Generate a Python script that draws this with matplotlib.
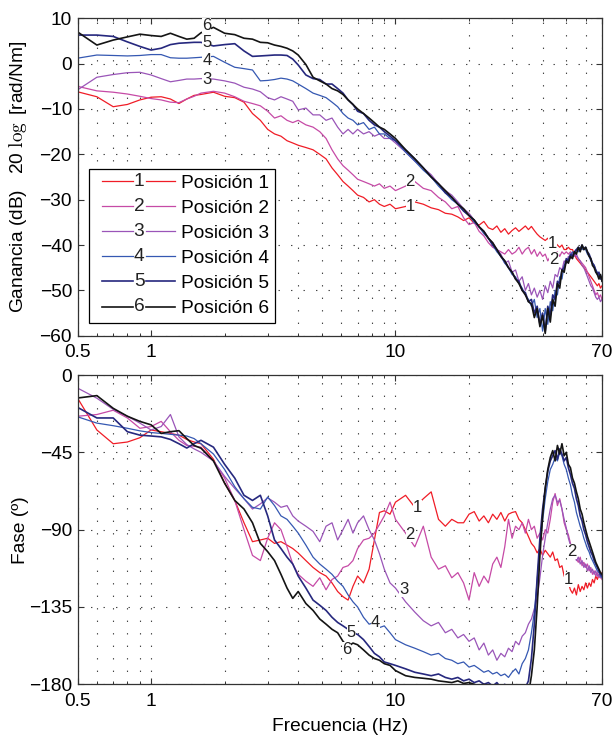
import matplotlib
matplotlib.use('Agg')
import matplotlib.pyplot as plt
import numpy as np
from matplotlib.legend_handler import HandlerBase
from matplotlib.lines import Line2D
from matplotlib.text import Text
from matplotlib.ticker import FixedLocator, FixedFormatter, NullFormatter

plt.rcParams['font.family'] = ['Liberation Sans', 'DejaVu Sans']
plt.rcParams['mathtext.fontset'] = 'cm'
plt.rcParams['lines.scale_dashes'] = False

# ---------------- data ----------------
f_lo = [0.5, 0.6, 0.7, 0.8, 0.9, 1.0, 1.1, 1.2, 1.3, 1.4, 1.5, 1.6,
        1.8, 2.0, 2.2, 2.4, 2.6, 2.8, 3.0, 3.2, 3.4, 3.6, 3.8,
        4.0, 4.3, 4.6, 4.9, 5.2, 5.5, 5.8, 6.1, 6.4, 6.7, 7.0,
        7.4, 7.8, 8.2, 8.6, 9.0, 9.5, 10.0]
f_hi = [11, 12, 13, 14, 15, 16, 17, 18, 19, 20,
        21, 22, 23, 24, 25, 26, 27, 28, 29, 30,
        31, 32, 33, 34, 35, 36, 37, 38, 39, 40,
        41, 42, 43, 44, 45, 46, 47, 48, 49, 50,
        51, 52, 53, 54, 55, 56, 57, 58, 59, 60,
        61, 62, 63, 64, 65, 66, 67, 68, 69, 70]

# gain (dB)
mag1_lo = [-6.2, -7.3, -9.5, -9.0, -8.0, -7.4, -7.3, -7.8, -8.8, -7.8, -7.0, -6.8,
           -6.3, -7.2, -7.5, -8.5, -11.0, -12.5, -14.5, -15.5, -16.0, -17.0, -17.5,
           -18.0, -18.5, -19.0, -20.0, -21.0, -23.0, -24.5, -26.0, -27.0, -28.0, -29.0,
           -29.5, -30.5, -30.0, -31.0, -31.5, -31.0, -32.0]
mag1_hi = [-31.5, -30.5, -31.0, -31.8, -32.2, -33.0, -33.2, -33.8, -34.6, -34.0,
           -35.2, -35.6, -34.8, -36.2, -36.6, -35.8, -37.2, -36.4, -37.6, -36.8,
           -36.2, -37.0, -36.4, -35.8, -36.6, -35.9, -36.8, -37.6, -38.2, -38.6,
           -39.0, -38.5, -39.5, -40.0, -39.5, -40.0, -40.5, -40.0, -41.0, -41.0,
           -40.5, -41.0, -41.0, -42.0, -43.0, -43.5, -44.0, -44.5, -45.0, -45.5,
           -46.0, -46.5, -47.0, -47.5, -48.0, -48.5, -49.0, -48.5, -49.5, -49.0]
mag2_lo = [-5.0, -6.0, -6.3, -6.7, -7.2, -7.7, -8.0, -8.5, -8.6, -7.8, -7.2, -6.5,
           -6.1, -6.5, -7.3, -8.3, -8.8, -9.3, -10.5, -12.0, -11.5, -12.5, -13.0,
           -12.5, -13.5, -14.0, -15.0, -16.5, -19.0, -21.0, -22.5, -23.5, -24.5, -25.5,
           -26.0, -26.5, -27.0, -26.5, -27.5, -27.0, -28.0]
mag2_hi = [-27.0, -26.0, -27.5, -28.0, -29.5, -30.5, -32.0, -31.5, -34.0, -35.5,
           -35.0, -37.0, -38.0, -39.5, -40.5, -41.0, -41.5, -42.0, -41.0, -42.0,
           -41.5, -40.5, -42.0, -41.0, -40.5, -42.0, -41.0, -42.5, -41.5, -42.5,
           -42.0, -43.5, -42.5, -43.5, -42.0, -41.5, -42.5, -41.5, -42.0, -41.5,
           -42.0, -41.5, -42.0, -42.0, -42.5, -43.0, -43.5, -44.0, -44.5, -45.0,
           -46.0, -47.0, -48.0, -49.0, -50.0, -51.0, -50.5, -51.5, -51.0, -52.0]
mag3_lo = [-5.8, -3.0, -2.4, -2.0, -1.9, -2.5, -3.3, -4.0, -3.7, -3.4, -3.4, -3.3,
           -3.4, -3.8, -4.3, -5.2, -5.6, -6.2, -7.5, -8.0, -7.3, -7.8, -8.3,
           -10.2, -9.8, -11.3, -11.3, -12.5, -12.0, -14.0, -15.5, -14.5, -15.5, -14.5,
           -15.5, -15.0, -16.0, -15.5, -16.5, -16.5, -17.5]
mag3_hi = [-19.5, -21.5, -23.0, -24.5, -26.5, -28.0, -29.0, -30.5, -32.0, -33.0,
           -34.5, -36.0, -37.0, -38.5, -39.5, -41.0, -42.0, -44.0, -43.5, -46.0,
           -45.5, -48.0, -47.0, -50.0, -48.5, -51.0, -49.5, -51.5, -50.0, -52.0,
           -49.0, -50.5, -48.0, -49.5, -46.5, -47.0, -45.0, -45.5, -43.5, -44.0,
           -42.5, -43.0, -42.0, -42.5, -42.0, -43.0, -43.5, -44.5, -45.0, -46.0,
           -47.0, -48.0, -49.0, -49.5, -50.5, -51.5, -52.0, -51.5, -52.5, -52.0]
mag4_lo = [1.2, 1.9, 1.8, 1.7, 1.8, 2.0, 2.0, 1.3, 1.2, 1.2, 1.3, 1.4,
           1.6, 0.3, -0.8, -1.1, -1.4, -3.8, -3.7, -3.5, -3.2, -3.4, -3.8,
           -4.5, -5.5, -6.5, -7.0, -7.5, -8.5, -9.5, -11.0, -12.0, -12.5, -13.5,
           -13.0, -14.5, -14.0, -15.5, -15.5, -16.5, -17.0]
mag4_hi = [-19.5, -21.5, -23.5, -25.0, -27.0, -28.5, -30.0, -31.0, -32.5, -33.5,
           -35.0, -36.0, -37.5, -38.5, -40.0, -41.5, -42.5, -44.0, -45.0, -46.5,
           -47.0, -48.5, -49.5, -51.0, -52.0, -53.5, -52.0, -56.0, -54.0, -59.0,
           -54.0, -57.5, -52.5, -54.5, -50.0, -51.0, -47.0, -47.5, -44.5, -44.0,
           -43.0, -42.5, -41.5, -42.0, -41.0, -41.5, -40.5, -41.0, -40.5, -41.0,
           -42.0, -42.5, -43.5, -44.0, -44.5, -45.5, -46.0, -47.0, -46.5, -48.0]
mag5_lo = [6.3, 6.3, 6.0, 4.8, 3.8, 3.0, 3.4, 4.2, 4.5, 4.6, 4.7, 4.7,
           3.9, 4.2, 4.4, 2.8, 1.6, 1.7, 1.8, 1.9, 1.9, 1.8, 1.0,
           -0.3, -2.5, -3.3, -3.5, -4.5, -4.5, -5.5, -6.5, -8.0, -9.0, -10.5,
           -11.0, -12.5, -13.5, -14.0, -15.0, -16.0, -17.0]
mag5_hi = [-19.0, -21.0, -23.0, -25.0, -26.5, -28.5, -29.5, -31.0, -32.5, -33.5,
           -34.5, -36.0, -37.0, -38.5, -40.0, -41.0, -42.5, -43.5, -45.0, -46.0,
           -47.5, -48.0, -50.0, -50.5, -52.5, -52.0, -55.0, -53.5, -57.5, -55.0,
           -59.0, -53.5, -55.5, -51.0, -52.0, -48.0, -48.5, -45.5, -45.0, -43.0,
           -43.5, -42.0, -42.5, -41.5, -41.0, -40.5, -41.0, -40.0, -41.0, -40.5,
           -41.5, -42.0, -43.0, -44.0, -44.5, -45.5, -46.5, -46.0, -47.5, -47.0]
mag6_lo = [7.0, 4.1, 5.2, 5.9, 6.5, 6.2, 6.0, 6.7, 6.0, 5.4, 5.6, 6.8,
           8.0, 6.7, 6.4, 5.6, 5.4, 4.7, 4.6, 4.1, 3.8, 3.4, 2.8,
           1.9, -0.2, -3.0, -3.8, -4.5, -5.5, -6.0, -6.8, -8.0, -9.0, -10.0,
           -11.0, -12.0, -13.0, -14.0, -14.5, -15.5, -16.5]
mag6_hi = [-19.0, -21.0, -23.0, -25.0, -26.5, -28.0, -29.5, -31.0, -32.0, -33.5,
           -34.5, -36.0, -37.0, -38.5, -39.5, -41.0, -42.5, -43.5, -45.0, -46.0,
           -47.5, -48.5, -50.0, -51.0, -52.5, -53.0, -56.0, -54.0, -58.0, -55.5,
           -59.5, -54.0, -57.0, -52.0, -53.5, -48.5, -49.5, -45.5, -46.0, -43.5,
           -44.0, -42.5, -43.0, -41.5, -42.0, -40.5, -41.5, -40.0, -41.0, -40.5,
           -41.5, -42.5, -43.0, -44.5, -45.0, -46.0, -46.5, -47.5, -46.5, -48.0]

# phase (degrees)
ph1_lo = [-13.4, -32.0, -40.0, -39.0, -36.5, -32.0, -33.0, -34.0, -35.0, -37.5, -39.0, -40.0,
          -49.0, -63.0, -73.0, -86.0, -97.0, -96.0, -95.0, -98.0, -97.0, -99.0, -101.0,
          -103.6, -108.0, -112.0, -115.0, -117.0, -121.0, -126.0, -129.0, -131.0, -123.0, -117.0,
          -121.0, -113.0, -96.0, -80.0, -79.0, -81.0, -74.0]
ph1_hi = [-70.0, -77.0, -72.0, -68.0, -84.0, -88.0, -84.0, -86.0, -86.0, -81.0,
          -79.5, -85.0, -82.0, -86.0, -81.0, -84.0, -80.0, -85.0, -81.0, -80.0,
          -79.5, -84.0, -86.0, -90.0, -94.0, -98.0, -100.0, -103.5, -101.0, -105.0,
          -102.0, -104.0, -106.0, -103.0, -108.0, -107.0, -112.0, -111.0, -117.0, -119.0,
          -121.0, -125.0, -127.0, -124.0, -128.0, -122.0, -126.0, -123.0, -125.0, -121.0,
          -124.0, -121.0, -123.0, -119.0, -121.0, -117.0, -119.0, -116.0, -118.0, -115.0]
ph2_lo = [-24.0, -23.0, -20.5, -25.0, -31.0, -30.0, -27.0, -33.0, -38.0, -41.0, -41.5, -42.0,
          -50.0, -60.0, -73.0, -90.0, -105.0, -108.0, -95.0, -86.0, -90.0, -100.0, -110.0,
          -116.0, -120.0, -123.0, -118.0, -125.0, -119.0, -117.0, -112.0, -111.0, -108.0, -101.0,
          -96.0, -95.0, -92.0, -87.0, -82.0, -74.0, -84.0]
ph2_hi = [-92.0, -100.0, -88.0, -106.0, -113.0, -111.0, -118.0, -115.0, -121.0, -131.0,
          -115.0, -123.0, -117.0, -121.0, -110.0, -106.0, -112.0, -100.0, -84.0, -95.0,
          -88.0, -90.0, -86.0, -92.0, -84.0, -90.0, -88.0, -95.0, -92.0, -96.0,
          -90.0, -92.0, -84.0, -74.0, -69.0, -76.0, -72.0, -78.0, -86.0, -90.0,
          -93.0, -98.0, -101.0, -105.0, -107.0, -109.0, -106.0, -111.0, -109.0, -112.0,
          -110.0, -114.0, -112.0, -116.0, -114.0, -117.0, -115.0, -118.0, -116.0, -119.0]
ph3_lo = [-7.6, -13.5, -20.0, -24.0, -28.0, -32.0, -30.0, -23.0, -36.0, -40.5, -43.0, -45.0,
          -50.0, -59.0, -66.0, -72.0, -78.0, -75.0, -71.5, -74.0, -77.0, -76.0, -82.0,
          -85.0, -88.0, -91.0, -97.0, -88.0, -86.0, -96.0, -90.0, -84.0, -92.0, -86.0,
          -82.0, -90.0, -96.0, -104.0, -113.0, -121.0, -124.0]
ph3_hi = [-132.0, -138.0, -143.0, -146.0, -144.0, -150.0, -148.0, -153.0, -151.0, -155.0,
          -153.0, -160.0, -156.0, -163.0, -160.0, -166.0, -162.0, -164.0, -159.0, -161.0,
          -155.0, -157.0, -152.0, -150.0, -145.0, -142.0, -136.0, -130.0, -118.0, -105.0,
          -95.0, -86.0, -78.0, -72.0, -70.0, -74.0, -73.0, -78.0, -84.0, -89.0,
          -95.0, -99.0, -104.0, -102.0, -108.0, -106.0, -110.0, -108.0, -112.0, -110.0,
          -114.0, -111.0, -115.0, -113.0, -116.0, -114.0, -117.0, -116.0, -118.0, -117.0]
ph4_lo = [-24.3, -28.0, -29.5, -31.0, -32.5, -33.5, -34.0, -34.5, -35.0, -35.5, -37.0, -40.0,
          -46.0, -55.0, -65.0, -72.0, -77.0, -78.0, -71.0, -76.0, -82.0, -84.0, -88.0,
          -92.0, -99.0, -106.0, -110.0, -113.0, -116.0, -120.0, -123.0, -128.0, -132.0, -135.0,
          -141.0, -145.0, -144.0, -147.0, -146.0, -150.0, -154.0]
ph4_hi = [-157.0, -159.0, -161.0, -163.0, -162.0, -165.0, -166.0, -168.0, -167.0, -170.0,
          -169.0, -171.0, -173.0, -172.0, -174.0, -173.0, -175.0, -174.0, -176.0, -173.0,
          -171.0, -174.0, -168.0, -165.0, -160.0, -150.0, -138.0, -120.0, -100.0, -85.0,
          -72.0, -62.0, -55.0, -52.0, -48.0, -50.0, -45.0, -47.0, -52.0, -55.0,
          -60.0, -64.0, -70.0, -74.0, -80.0, -84.0, -88.0, -91.0, -95.0, -98.0,
          -101.0, -103.0, -106.0, -108.0, -110.0, -112.0, -114.0, -115.0, -117.0, -118.0]
ph5_lo = [-18.8, -25.0, -25.0, -33.0, -35.0, -35.5, -36.0, -37.5, -40.0, -42.5, -40.0, -38.0,
          -42.0, -52.0, -60.0, -70.0, -73.0, -70.0, -82.0, -96.0, -101.0, -106.0, -110.0,
          -117.0, -124.0, -131.0, -134.0, -137.0, -141.0, -144.0, -146.0, -148.0, -150.0, -151.0,
          -154.0, -158.0, -162.0, -164.0, -167.0, -168.0, -169.0]
ph5_hi = [-171.0, -173.0, -174.0, -175.0, -174.0, -176.0, -177.0, -176.0, -178.0, -177.0,
          -179.0, -178.0, -180.0, -179.0, -181.0, -179.0, -182.0, -180.0, -182.0, -181.0,
          -183.0, -181.0, -184.0, -182.0, -178.0, -165.0, -145.0, -118.0, -95.0, -78.0,
          -66.0, -56.0, -50.0, -47.0, -44.0, -49.0, -43.0, -46.0, -50.0, -48.0,
          -54.0, -58.0, -63.0, -66.0, -72.0, -76.0, -82.0, -85.0, -90.0, -93.0,
          -97.0, -100.0, -103.0, -105.0, -108.0, -110.0, -112.0, -114.0, -116.0, -117.0]
ph6_lo = [-13.4, -12.0, -19.4, -24.0, -27.0, -29.0, -34.0, -33.0, -32.4, -37.0, -41.0, -42.6,
          -50.0, -63.0, -73.0, -78.0, -86.0, -98.0, -102.8, -108.0, -116.0, -124.0, -130.0,
          -126.0, -133.0, -137.0, -142.0, -145.0, -148.0, -150.0, -155.0, -158.0, -156.0, -157.0,
          -160.0, -163.0, -165.0, -166.0, -168.0, -169.0, -172.0]
ph6_hi = [-175.0, -176.0, -176.5, -177.0, -178.0, -178.5, -179.0, -178.0, -179.5, -179.0,
          -180.0, -181.0, -180.0, -182.0, -181.0, -183.0, -182.0, -184.0, -183.0, -185.0,
          -184.0, -186.0, -185.0, -187.0, -186.0, -175.0, -160.0, -135.0, -105.0, -82.0,
          -66.0, -55.0, -48.0, -44.0, -50.0, -41.0, -46.0, -40.0, -47.0, -45.0,
          -52.0, -54.0, -60.0, -63.0, -68.0, -72.0, -78.0, -81.0, -86.0, -90.0,
          -94.0, -97.0, -100.0, -103.0, -106.0, -109.0, -111.0, -113.0, -115.0, -116.0]

names = ['Posición 1', 'Posición 2', 'Posición 3', 'Posición 4', 'Posición 5', 'Posición 6']
colors = ['#f01c26', '#c64aa6', '#9a55b8', '#3558b2', '#26287e', '#141414']

mag_lo = [mag1_lo, mag2_lo, mag3_lo, mag4_lo, mag5_lo, mag6_lo]
mag_hi = [mag1_hi, mag2_hi, mag3_hi, mag4_hi, mag5_hi, mag6_hi]
ph_lo = [ph1_lo, ph2_lo, ph3_lo, ph4_lo, ph5_lo, ph6_lo]
ph_hi = [ph1_hi, ph2_hi, ph3_hi, ph4_hi, ph5_hi, ph6_hi]

# inline curve numbers (text, freq, value)
mag_tags = [('1', 11.5, -31.4), ('2', 11.5, -26.1), ('3', 1.69, -3.4),
            ('4', 1.69, 0.7), ('5', 1.69, 4.7), ('6', 1.69, 8.4),
            ('1', 43.8, -39.6), ('2', 44.5, -43.3)]
ph_tags = [('1', 12.3, -77.4), ('2', 11.5, -93.0), ('3', 10.8, -125.0),
           ('4', 8.3, -144.0), ('5', 6.6, -149.6), ('6', 6.3, -160.0),
           ('2', 52.8, -103.0), ('1', 51.0, -119.0)]

FS = 13.8


class NumberedLine(HandlerBase):
    def __init__(self, num):
        super().__init__()
        self.num = num

    def create_artists(self, legend, orig_handle, xdescent, ydescent,
                       width, height, fontsize, trans):
        y = 0.5 * height - ydescent
        x0 = -xdescent
        mid = x0 + 0.55 * width
        gap = 0.08 * width
        c = orig_handle.get_color()
        lw = orig_handle.get_linewidth()
        left = Line2D([x0 + 0.09 * width, mid - gap], [y, y], color=c, lw=lw)
        right = Line2D([mid + gap, x0 + width], [y, y], color=c, lw=lw)
        num = Text(mid, y, self.num, ha='center', va='center',
                   fontsize=fontsize, color='#222222')
        for a in (left, right, num):
            a.set_transform(trans)
        return [left, right, num]


def style_axes(ax, yticks, ylim):
    ax.set_xscale('log')
    ax.set_xlim(0.5, 70)
    ax.set_ylim(*ylim)
    ax.xaxis.set_major_locator(FixedLocator([0.5, 1, 10, 70]))
    ax.xaxis.set_major_formatter(FixedFormatter(['0.5', '1', '10', '70']))
    ax.xaxis.set_minor_locator(FixedLocator([0.6, 0.7, 0.8, 0.9, 2, 3, 4, 5, 6, 7, 8, 9,
                                             20, 30, 40, 50, 60]))
    ax.xaxis.set_minor_formatter(NullFormatter())
    ax.set_yticks(yticks)
    ax.tick_params(which='both', direction='in', top=True, right=True,
                   labelsize=FS, color='#333333')
    ax.tick_params(which='major', length=4.5, width=0.8)
    ax.tick_params(which='minor', length=2.5, width=0.7)
    ax.tick_params(axis='x', pad=6)
    ax.tick_params(axis='y', pad=4)
    ax.grid(True, which='major', axis='y', linestyle=(0, (1, 8)), color='#444444', lw=0.8)
    ax.grid(True, which='both', axis='x', linestyle=(0, (1, 8)), color='#444444', lw=0.8)
    for s in ax.spines.values():
        s.set_color('#333333')
        s.set_linewidth(0.9)


fig = plt.figure(figsize=(6.13, 7.41), dpi=100)
W, H = 613.0, 741.0
ax1 = fig.add_axes([77.5 / W, 1 - 335.7 / H, (602 - 77.5) / W, (335.7 - 18.3) / H])
ax2 = fig.add_axes([77.5 / W, 1 - 684.3 / H, (602 - 77.5) / W, (684.3 - 375) / H])

f_all = np.concatenate([f_lo, f_hi])
lines = []
for i in range(6):
    lw = 1.2 if i >= 4 else 0.9
    ln, = ax1.plot(f_all, np.concatenate([mag_lo[i], mag_hi[i]]), color=colors[i], lw=lw)
    ax2.plot(f_all, np.concatenate([ph_lo[i], ph_hi[i]]), color=colors[i], lw=lw)
    lines.append(ln)

style_axes(ax1, [-60, -50, -40, -30, -20, -10, 0, 10], (-60, 10))
style_axes(ax2, [-180, -135, -90, -45, 0], (-180, 0))

for ax, tags in ((ax1, mag_tags), (ax2, ph_tags)):
    for t, fx, v in tags:
        ax.text(fx, v, t, ha='center', va='center', fontsize=12, color='#222222',
                zorder=5, bbox=dict(boxstyle='square,pad=0.0', fc='white', ec='none'))

ax1.set_ylabel(r'Ganancia (dB)   20 $\log$ [rad/Nm]', fontsize=FS)
ax2.set_ylabel('Fase (º)', fontsize=FS)
ax2.set_xlabel('Frecuencia (Hz)', fontsize=FS, labelpad=6)
ax1.yaxis.set_label_coords(-0.092, 0.5)
ax2.yaxis.set_label_coords(-0.092, 0.5)

leg = ax1.legend(lines, names, loc='lower left', bbox_to_anchor=(0.022, 0.04),
                 borderaxespad=0, fontsize=FS, handlelength=4.2, handletextpad=0.3,
                 labelspacing=0.4, borderpad=0.3, fancybox=False, framealpha=1,
                 edgecolor='black',
                 handler_map={ln: NumberedLine(str(k + 1)) for k, ln in enumerate(lines)})
leg.get_frame().set_linewidth(0.9)
leg.set_zorder(10)

fig.savefig('out.png', dpi=100)
